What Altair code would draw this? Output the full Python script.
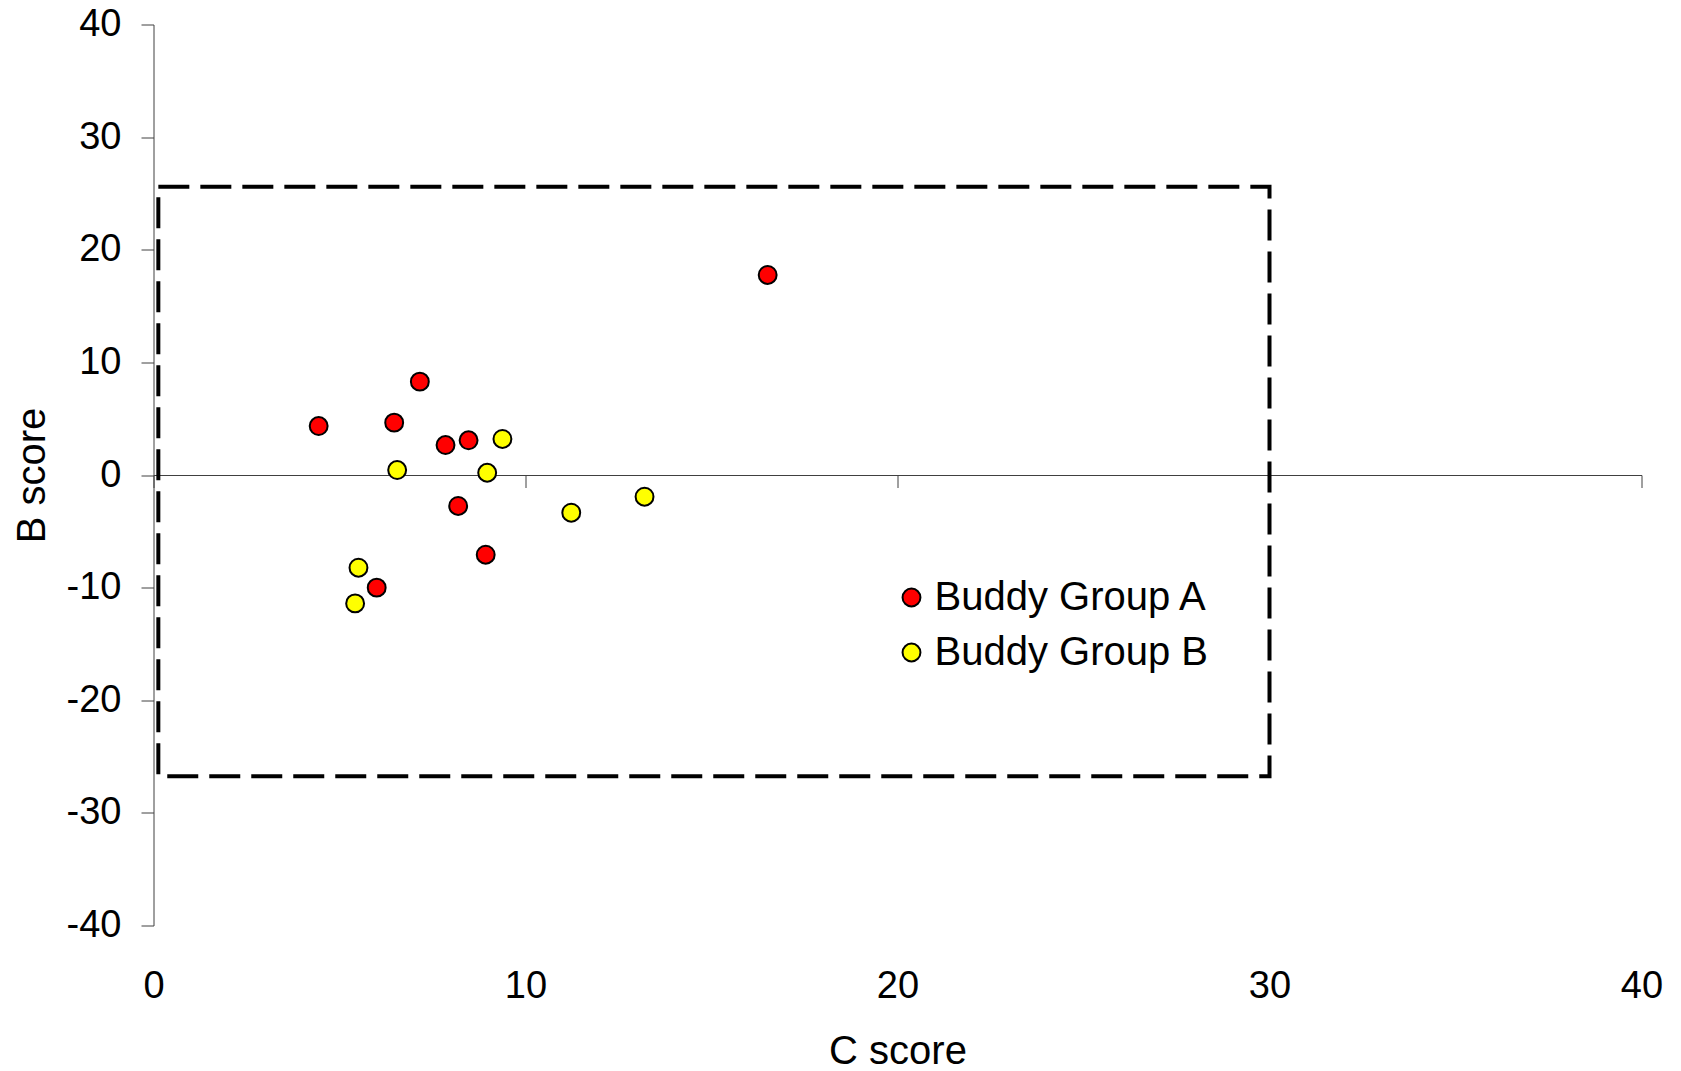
import altair as alt
import pandas as pd

# ---- data ----
group_a_c = [16.51, 7.16, 4.44, 6.47, 7.85, 8.47, 8.19, 8.93, 6.00]
group_a_b = [17.76, 8.29, 4.35, 4.65, 2.66, 3.08, -2.75, -7.08, -10.0]
group_b_c = [9.38, 6.55, 8.97, 11.23, 13.20, 5.51, 5.42]
group_b_b = [3.20, 0.44, 0.20, -3.35, -1.93, -8.23, -11.40]
group_names = ["Buddy Group A", "Buddy Group B"]
group_colors = ["#FF0000", "#FFFF00"]
box_c = [0.13, 30.0]
box_b = [-26.75, 25.6]
x_ticks = [0, 10, 20, 30, 40]
y_ticks = [-40, -30, -20, -10, 0, 10, 20, 30, 40]

pts = pd.DataFrame({
    "C": group_a_c + group_b_c,
    "B": group_a_b + group_b_b,
    "group": [group_names[0]] * len(group_a_c) + [group_names[1]] * len(group_b_c),
})
box = pd.DataFrame({"c1": [box_c[0]], "c2": [box_c[1]], "b1": [box_b[0]], "b2": [box_b[1]]})

FONT = "Liberation Sans"
AXIS_COLOR = "#404040"
W, H = 1488, 901
PT_SIZE = 320

xscale = alt.Scale(domain=[0, 40], nice=False, zero=False)
yscale = alt.Scale(domain=[-40, 40], nice=False, zero=False)

y_axis = alt.Axis(
    values=y_ticks, grid=False, tickSize=12.5, labelPadding=20,
    labelFontSize=38, labelFont=FONT, labelColor="black", labelFlush=False,
    labelExpr="'' + datum.value",
    title="B score", titleFontSize=40, titleFont=FONT, titleFontWeight="normal",
    titleColor="black", titlePadding=14,
    domainColor=AXIS_COLOR, tickColor=AXIS_COLOR, domainWidth=1, tickWidth=1,
)

x_label_axis = alt.Axis(
    values=x_ticks, orient="bottom", grid=False, domain=False, ticks=False, tickSize=0,
    labelPadding=42, labelFontSize=38, labelFont=FONT, labelColor="black",
    labelFlush=False, labelOverlap=False,
    title="C score", titleFontSize=40, titleFont=FONT, titleFontWeight="normal",
    titleColor="black", titlePadding=26,
)

x_mid_axis = alt.Axis(
    values=x_ticks, orient="bottom", offset=-(H / 2), grid=False, labels=False,
    title=None, domain=True, ticks=True, tickSize=12.5,
    domainColor=AXIS_COLOR, tickColor=AXIS_COLOR, domainWidth=1, tickWidth=1,
)

box_layer = alt.Chart(box).mark_rect(
    filled=False, stroke="black", strokeWidth=4, strokeDash=[31, 11]
).encode(
    x=alt.X("c1:Q", scale=xscale, axis=x_mid_axis),
    x2="c2:Q",
    y=alt.Y("b1:Q", scale=yscale, axis=y_axis),
    y2="b2:Q",
)

points_layer = alt.Chart(pts).mark_circle(
    size=PT_SIZE, opacity=1, stroke="black", strokeWidth=2
).encode(
    x=alt.X("C:Q", scale=xscale, axis=x_label_axis),
    y=alt.Y("B:Q", scale=yscale, axis=y_axis),
    color=alt.Color(
        "group:N",
        scale=alt.Scale(domain=group_names, range=group_colors),
        legend=alt.Legend(
            orient="none", legendX=738, legendY=553, title=None,
            labelFontSize=40, labelFont=FONT, labelColor="black", labelLimit=0,
            symbolSize=PT_SIZE, symbolType="circle", symbolStrokeColor="black",
            symbolStrokeWidth=2, symbolOpacity=1, rowPadding=15, labelOffset=3,
        ),
    ),
)

chart = alt.layer(box_layer, points_layer).resolve_axis(x="independent").properties(
    width=W, height=H,
    padding={"left": 145.5, "top": 16.5, "right": 30, "bottom": 145},
    autosize=alt.AutoSizeParams(type="none"),
).configure_view(stroke=None)

chart.save("out.html", embed_options={"renderer": "svg", "actions": False})
